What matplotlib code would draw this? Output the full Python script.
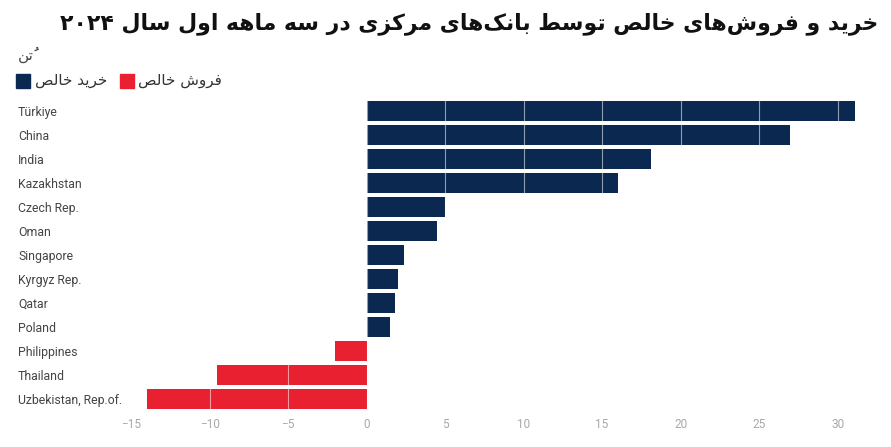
import matplotlib
matplotlib.use("Agg")
import matplotlib.pyplot as plt
from matplotlib.patches import Rectangle

# ---------------- data ----------------
countries = ["Türkiye", "China", "India", "Kazakhstan", "Czech Rep.", "Oman",
             "Singapore", "Kyrgyz Rep.", "Qatar", "Poland", "Philippines",
             "Thailand", "Uzbekistan, Rep.of."]
values = [31.1, 27.0, 18.1, 16.0, 5.0, 4.5, 2.4, 2.0, 1.8, 1.5, -2.0, -9.5, -14.0]
xticks = [-15, -10, -5, 0, 5, 10, 15, 20, 25, 30]
xticklabels = ["\u221215", "\u221210", "\u22125", "0", "5", "10", "15", "20", "25", "30"]
title_text = "خرید و فروش‌های خالص توسط بانک‌های مرکزی در سه ماهه اول سال ۲۰۲۴"
unit_text = "تُن"
legend_buy = "خرید خالص"
legend_sell = "فروش خالص"

NAVY = "#0a2850"
RED = "#e8202f"

# ------------- minimal Persian shaping (presentation forms + visual order) -------------
FORMS = {
    # isolated, final, initial, medial
    "\u0627": ("\uFE8D", "\uFE8E", None, None),
    "\u0628": ("\uFE8F", "\uFE90", "\uFE91", "\uFE92"),
    "\u062A": ("\uFE95", "\uFE96", "\uFE97", "\uFE98"),
    "\u062E": ("\uFEA5", "\uFEA6", "\uFEA7", "\uFEA8"),
    "\u062F": ("\uFEA9", "\uFEAA", None, None),
    "\u0631": ("\uFEAD", "\uFEAE", None, None),
    "\u0632": ("\uFEAF", "\uFEB0", None, None),
    "\u0633": ("\uFEB1", "\uFEB2", "\uFEB3", "\uFEB4"),
    "\u0634": ("\uFEB5", "\uFEB6", "\uFEB7", "\uFEB8"),
    "\u0635": ("\uFEB9", "\uFEBA", "\uFEBB", "\uFEBC"),
    "\u0637": ("\uFEC1", "\uFEC2", "\uFEC3", "\uFEC4"),
    "\u0641": ("\uFED1", "\uFED2", "\uFED3", "\uFED4"),
    "\u0644": ("\uFEDD", "\uFEDE", "\uFEDF", "\uFEE0"),
    "\u0645": ("\uFEE1", "\uFEE2", "\uFEE3", "\uFEE4"),
    "\u0646": ("\uFEE5", "\uFEE6", "\uFEE7", "\uFEE8"),
    "\u0647": ("\uFEE9", "\uFEEA", "\uFEEB", "\uFEEC"),
    "\u0648": ("\uFEED", "\uFEEE", None, None),
    "\u06CC": ("\uFBFC", "\uFBFD", "\uFBFE", "\uFBFF"),
    "\u06A9": ("\uFB8E", "\uFB8F", "\uFB90", "\uFB91"),
}
MARKS = set("\u064B\u064C\u064D\u064E\u064F\u0650\u0651\u0652")
DIGITS = "۰۱۲۳۴۵۶۷۸۹0123456789"


def joins_left(ch):  # can connect to the following letter
    f = FORMS.get(ch)
    return f is not None and f[2] is not None


def shape(text):
    clusters = []
    for ch in text:
        if ch in MARKS and clusters:
            clusters[-1][1].append(ch)
        else:
            clusters.append([ch, []])
    bases = [c[0] for c in clusters]
    out = []
    for i, (ch, marks) in enumerate(clusters):
        if ch in FORMS:
            prev = bases[i - 1] if i > 0 else None
            nxt = bases[i + 1] if i + 1 < len(bases) else None
            jp = prev is not None and joins_left(prev)
            jn = nxt is not None and nxt in FORMS and joins_left(ch)
            iso, fin, ini, med = FORMS[ch]
            if jp and jn:
                g = med
            elif jp:
                g = fin
            elif jn:
                g = ini
            else:
                g = iso
            out.append(g + "".join(marks))
        elif ch == "\u200C":
            continue
        else:
            out.append(ch + "".join(marks))
    groups = []
    i = 0
    while i < len(out):
        if out[i] in DIGITS:
            j = i
            while j < len(out) and out[j] in DIGITS:
                j += 1
            groups.append("".join(out[i:j]))
            i = j
        else:
            groups.append(out[i])
            i += 1
    return "".join(reversed(groups))


# ---------------- figure ----------------
W, H = 891, 447
fig = plt.figure(figsize=(W / 100, H / 100), dpi=100)
fig.patch.set_facecolor("white")

ax_left, ax_right = 131 / W, 858 / W
ax_top, ax_bot = 1 - 99 / H, 1 - 411 / H
ax = fig.add_axes([ax_left, ax_bot, ax_right - ax_left, ax_top - ax_bot])

ypos = list(range(len(countries)))
colors = [NAVY if v >= 0 else RED for v in values]
ax.barh(ypos, values, height=0.83, color=colors, zorder=1)

ax.set_xlim(-15, 31.3)
ax.set_ylim(len(countries) - 0.5, -0.5)
ax.set_xticks(xticks)
ax.set_xticklabels(xticklabels, fontsize=8.5, color="#a8a8a8", family="Roboto")
ax.set_yticks(ypos)
ax.set_yticklabels(countries, fontsize=8.8, color="#444444", family="Roboto", ha="left")
ax.tick_params(axis="y", length=0, pad=(131 - 18) * 0.72)
ax.tick_params(axis="x", length=0, pad=5)
for s in ax.spines.values():
    s.set_visible(False)
for x in xticks:
    ax.axvline(x, color="white", lw=0.8, alpha=0.55, zorder=2)

# ---------------- texts ----------------
fig.text(878 / W, 1 - 24 / H, shape(title_text), ha="right", va="center",
         fontsize=15.8, fontweight="bold", color="#111111", family="DejaVu Sans")
fig.text(18 / W, 1 - 55 / H, shape(unit_text), ha="left", va="center",
         fontsize=11, color="#444444", family="DejaVu Sans")

# legend
sq = 14
fig.add_artist(Rectangle((16 / W, 1 - 88 / H), sq / W, sq / H, transform=fig.transFigure,
                         color=NAVY))
fig.text(35 / W, 1 - 80 / H, shape(legend_buy), ha="left", va="center",
         fontsize=11, color="#333333", family="DejaVu Sans")
fig.add_artist(Rectangle((120 / W, 1 - 88 / H), sq / W, sq / H, transform=fig.transFigure,
                         color=RED))
fig.text(138 / W, 1 - 80 / H, shape(legend_sell), ha="left", va="center",
         fontsize=11, color="#333333", family="DejaVu Sans")

fig.savefig("out.png", dpi=100, facecolor="white")
